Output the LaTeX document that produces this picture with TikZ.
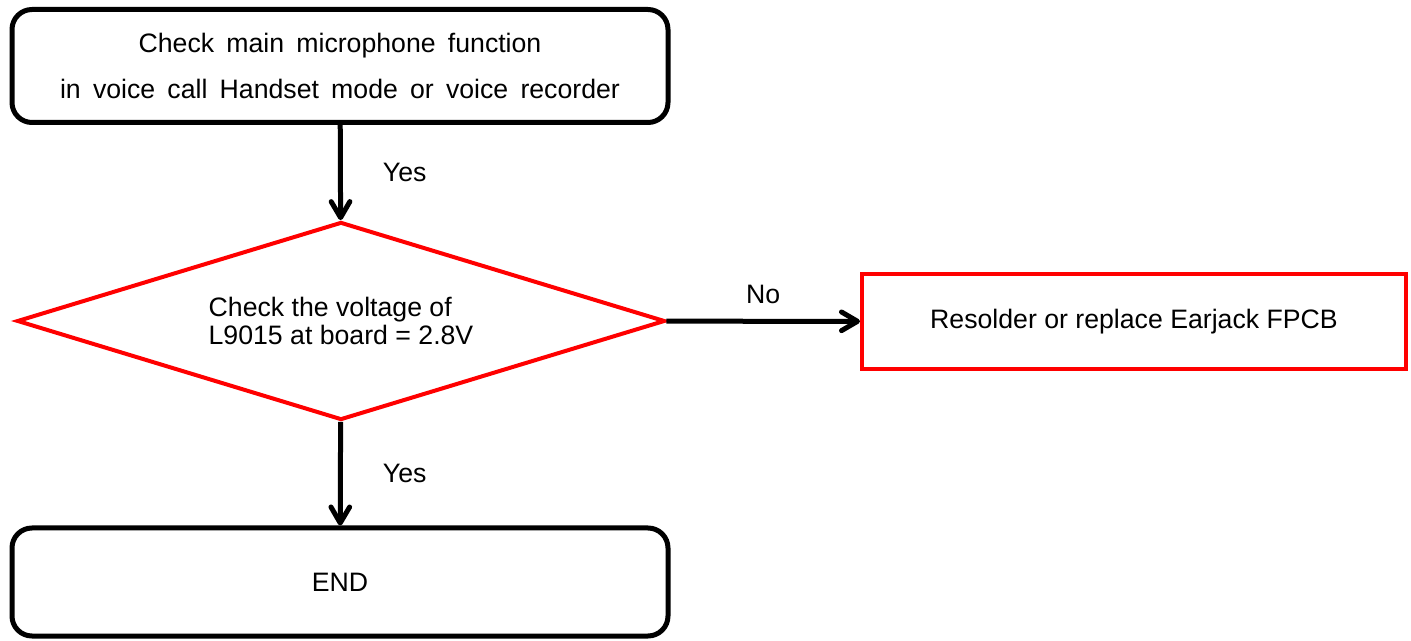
\documentclass[tikz,border=0pt]{standalone}
\usepackage{fontspec}
\setmainfont{Liberation Sans}
\newfontfamily\widefont[WordSpace=1.65]{Liberation Sans}
\usetikzlibrary{shapes.geometric,arrows.meta}
\begin{document}
\begin{tikzpicture}[x=0.75pt,y=-0.75pt,font=\fontsize{20}{24}\selectfont]
	\useasboundingbox (0,0) rectangle (1411,641);
	\begin{scope}[every node/.style={draw=black,line width=3.75pt,rounded corners=15pt,minimum width=492pt,inner sep=0pt}]
	\node[minimum height=84.75pt,align=center,font=\fontsize{20}{34.5}\widefont] (check) at (340,66) {Check main microphone function\\in voice call Handset mode or voice recorder};
	\node[minimum height=81pt] (end) at (340,582) {END};
	\end{scope}
	\begin{scope}[every node/.style={draw=red,line width=3pt,inner sep=0pt}]
	\node[diamond,aspect=3.27,minimum width=486pt,minimum height=148.5pt,align=left,font=\fontsize{20}{21}\selectfont] (volt) at (341,321) {Check the voltage of\\L9015 at board = 2.8V};
	\node[minimum width=408pt,minimum height=71.25pt] (fpcb) at (1134,321.5) {Resolder or replace Earjack FPCB};
	\end{scope}
	\begin{scope}[every edge/.style={draw=black,line width=3.75pt,-{Straight Barb[round,length=12pt,width=14pt]}},
		every node/.style={inner sep=0pt}]
	\path (check) edge node[right=30pt] {Yes} (volt);
	\path (volt) edge node[above=11pt] {No} (fpcb);
	\path (volt) edge node[right=30pt] {Yes} (end);
	\end{scope}
\end{tikzpicture}
\end{document}
